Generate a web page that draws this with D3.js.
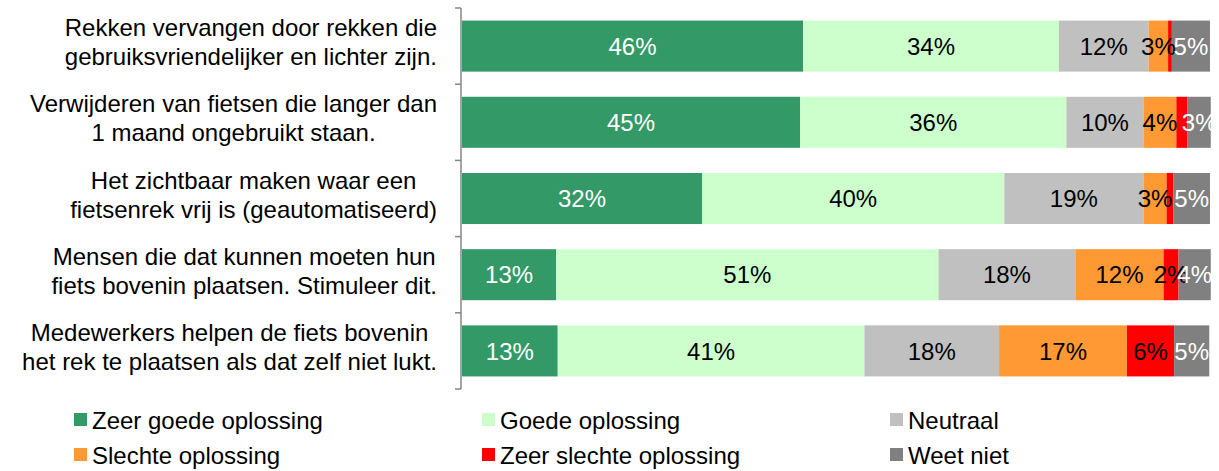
<!DOCTYPE html>
<html>
<head>
<meta charset="utf-8">
<script src="https://cdn.jsdelivr.net/npm/d3@7"></script>
<style>
	body { margin: 0; background: #fff; }
	svg { font-family: "Liberation Sans", Arial, sans-serif; }
</style>
</head>
<body>
<div id="chart"></div>
<script>
var categories = [
	["Rekken vervangen door rekken die", "gebruiksvriendelijker en lichter zijn."],
	["Verwijderen van fietsen die langer dan", "1 maand ongebruikt staan."],
	["Het zichtbaar maken waar een", "fietsenrek vrij is (geautomatiseerd)"],
	["Mensen die dat kunnen moeten hun", "fiets bovenin plaatsen. Stimuleer dit."],
	["Medewerkers helpen de fiets bovenin", "het rek te plaatsen als dat zelf niet lukt."]
];
var seriesNames = ["Zeer goede oplossing", "Goede oplossing", "Neutraal", "Slechte oplossing", "Zeer slechte oplossing", "Weet niet"];
var seriesColors = ["#339966", "#ccffcc", "#c0c0c0", "#ff9933", "#ff0000", "#808080"];
var labelColors = ["#fff", "#000", "#000", "#000", "#000", "#fff"];

var zeerGoed   = [45.6, 45.2, 32.1, 12.6, 12.8];
var goed       = [34.2, 35.6, 40.4, 51.1, 41.0];
var neutraal   = [12.0, 10.3, 18.6, 18.3, 18.0];
var slecht     = [2.6, 4.4, 3.1, 11.8, 17.1];
var zeerSlecht = [0.5, 1.5, 0.9, 2.0, 6.3];
var weetNiet   = [5.1, 3.1, 4.9, 4.3, 4.7];

var series = [zeerGoed, goed, neutraal, slecht, zeerSlecht, weetNiet];

var W = 1219, H = 471;
var FS = 24;
var svg = d3.select("#chart").append("svg").attr("width", W).attr("height", H);

var x = d3.scaleLinear().domain([0, 100]).range([462, 1210]);
var y = d3.scaleBand().domain(d3.range(categories.length)).range([8, 389]).paddingInner(0.33).paddingOuter(0.165);

var rows = categories.map(function(c, i) {
	var acc = 0;
	return series.map(function(s, k) {
		var seg = { row: i, k: k, v: s[i], x0: acc, x1: acc + s[i] };
		acc += s[i];
		return seg;
	});
});
var segs = [].concat.apply([], rows);

svg.selectAll("rect.bar").data(segs).enter().append("rect")
	.attr("class", "bar")
	.attr("x", function(d) { return x(d.x0); })
	.attr("width", function(d) { return x(d.x1) - x(d.x0); })
	.attr("y", function(d) { return y(d.row); })
	.attr("height", y.bandwidth())
	.attr("fill", function(d) { return seriesColors[d.k]; });

svg.selectAll("text.val").data(segs.filter(function(d) { return d.v >= 1.75; })).enter().append("text")
	.attr("class", "val")
	.attr("x", function(d) { return (x(d.x0) + x(d.x1)) / 2; })
	.attr("y", function(d) { return y(d.row) + y.bandwidth() / 2; })
	.attr("dy", "0.36em")
	.attr("text-anchor", "middle")
	.attr("font-size", FS)
	.attr("fill", function(d) { return labelColors[d.k]; })
	.text(function(d) { return Math.round(d.v) + "%"; });

// category axis
var axisX = 461;
var ticks = d3.range(categories.length + 1).map(function(i) { return 8 + i * (381 / categories.length); });
svg.append("line").attr("x1", axisX).attr("x2", axisX).attr("y1", 8).attr("y2", 389)
	.attr("stroke", "#868686").attr("stroke-width", 1.5);
svg.selectAll("line.tick").data(ticks).enter().append("line")
	.attr("class", "tick")
	.attr("x1", axisX - 6).attr("x2", axisX)
	.attr("y1", function(d) { return d; }).attr("y2", function(d) { return d; })
	.attr("stroke", "#868686").attr("stroke-width", 1.5);

// category labels: centred block, right edge at 437
categories.forEach(function(lines, i) {
	var g = svg.append("g");
	var cy = y(i) + y.bandwidth() / 2 - 4;
	var texts = lines.map(function(l, j) {
		return g.append("text")
			.attr("font-size", FS)
			.attr("fill", "#000")
			.attr("text-anchor", "middle")
			.attr("y", cy + (j - (lines.length - 1) / 2) * 29)
			.attr("dy", "0.36em")
			.text(l);
	});
	var maxW = d3.max(texts, function(t) { return t.node().getComputedTextLength(); });
	texts.forEach(function(t) { t.attr("x", 437 - maxW / 2); });
});

// legend
var legX = [74, 482, 890], legY = [420, 455];
var leg = svg.selectAll("g.leg").data(seriesNames).enter().append("g")
	.attr("class", "leg")
	.attr("transform", function(d, i) { return "translate(" + legX[i % 3] + "," + legY[Math.floor(i / 3)] + ")"; });
leg.append("rect").attr("x", 0).attr("y", -7).attr("width", 13).attr("height", 13)
	.attr("fill", function(d, i) { return seriesColors[i]; });
leg.append("text").attr("x", 18).attr("dy", "0.36em").attr("font-size", FS).attr("fill", "#000")
	.text(function(d) { return d; });
</script>
</body>
</html>
